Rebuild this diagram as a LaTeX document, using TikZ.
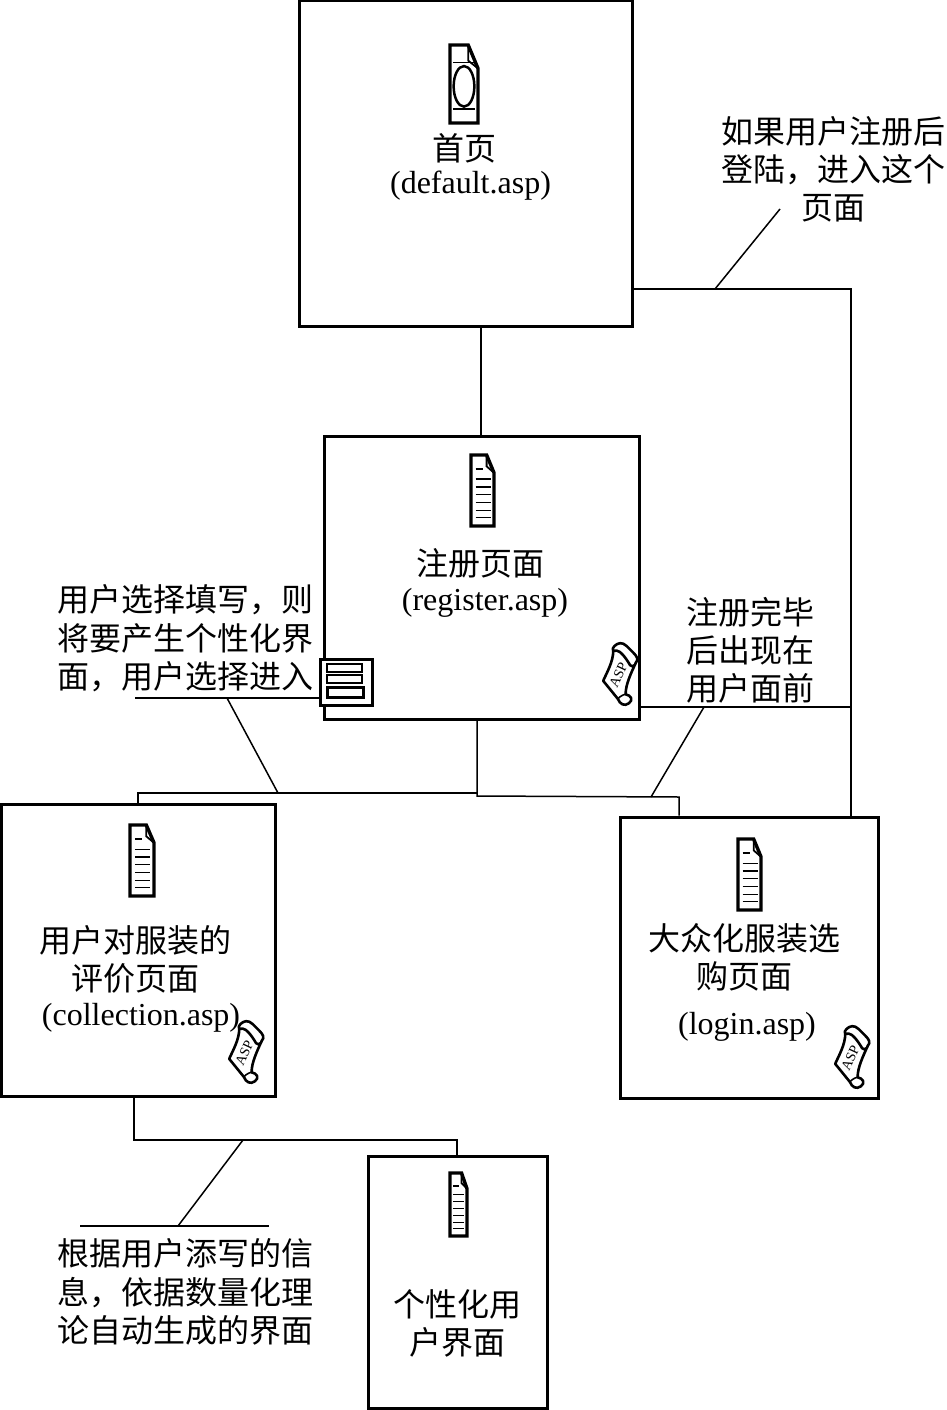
\documentclass[tikz,border=0pt]{standalone}
\usepackage{fontspec}
\setmainfont{Liberation Serif}
\newfontfamily\cjk{Noto Sans CJK SC}
\usetikzlibrary{calc}
\tikzset{
  box/.style={draw,line width=3pt,inner sep=0pt,fill=white},
  conn/.style={line width=1.5pt},
  lab/.style={inner sep=0pt,font=\cjk\fontsize{32}{38}\selectfont,align=center,anchor=center},
  labl/.style={inner sep=0pt,font=\cjk\fontsize{32}{38.5}\selectfont,align=left,anchor=west},
  file/.style={inner sep=0pt,font=\fontsize{32}{38}\selectfont,anchor=center},
  icon/.style={line width=3.4pt,line join=miter,fill=white},
  iconline/.style={line width=1.3pt}
}
% x0 y0 w h
\newcommand{\docicon}[4]{%
  \begin{scope}[shift={(#1,#2)},x=#3pt,y=-#4pt]
    \draw[icon] (0,0) -- (.68,0) -- (1,.25) -- (1,1) -- (0,1) -- cycle;
    \draw[line width=1.8pt] (.68,0) -- (.68,.16) -- (1,.25);
    \draw[line width=1.8pt] (.2,.2) -- (.5,.2);
    \foreach \yy in {.34,.45,.56,.67,.78,.88}
      \draw[iconline] (.2,\yy) -- (.85,\yy);
  \end{scope}}
\newcommand{\scrollicon}[2]{%
  \begin{scope}[shift={(#1,#2)},x=1.12pt,y=-1.12pt]
    \draw[line width=2.6pt,fill=white,line join=round]
      (-6,-20) .. controls (-6,-10) and (-12,0) .. (-15,7)
      -- (-2,23) .. controls (0,28) and (4,30) .. (8,27)
      .. controls (12,24) and (10,20) .. (5,19)
      .. controls (5,10) and (10,0) .. (14,-9)
      .. controls (17,-12) and (15,-15) .. (12,-18)
      -- (6,-24) .. controls (2,-28) and (-2,-27) .. (-5,-24)
      .. controls (-8,-21) and (-6,-19) .. (-3,-20)
      .. controls (0,-20) and (5,-14) .. (9,-7)
      .. controls (11,-5) and (14,-7) .. (14,-9);
    \draw[line width=1.6pt] (-2,23) .. controls (1,20) and (4,19) .. (5,19);
    \node[inner sep=0pt,rotate=65,font=\fontsize{14}{14}\selectfont] at (-1.5,2) {ASP};
  \end{scope}}
\begin{document}
\begin{tikzpicture}[x=1pt,y=-1pt]
\useasboundingbox (0,0) rectangle (946,1410);
% boxes
\node[box,minimum width=333pt,minimum height=325pt] (home) at (466,163.5) {};
\node[box,minimum width=315pt,minimum height=283pt] (reg) at (481.5,577.5) {};
\node[box,minimum width=274pt,minimum height=292pt] (coll) at (138,950) {};
\node[box,minimum width=258pt,minimum height=281pt] (login) at (749,957.5) {};
\node[box,minimum width=179pt,minimum height=252pt] (pers) at (457.5,1282) {};
\node[draw,line width=3pt,inner sep=0pt,fill=white,minimum width=52pt,minimum height=46pt] (form) at (346,682) {};
% junction coordinates
\coordinate (a) at (851,289);
\coordinate (b) at (851,707);
\coordinate (c) at (481,381);
\coordinate (d) at (477,796);
\coordinate (e) at (477,793);
\coordinate (f) at (138,793);
\coordinate (g) at (679,797);
\coordinate (h) at (134,1140);
\coordinate (i) at (457,1140);
\coordinate (j) at (715,289);
\coordinate (k) at (780,209);
\coordinate (l) at (704,707);
\coordinate (m) at (651,797);
\coordinate (n) at (135,698);
\coordinate (o) at (227,698);
\coordinate (p) at (278,793);
\coordinate (q) at (243,1140);
\coordinate (r) at (178,1226);
\coordinate (s) at (80,1226);
\coordinate (t) at (269,1226);
% connectors
\draw[conn] (home.east |- a) -- (a) -- (login.north -| a);
\draw[conn] (reg.east |- b) -- (b);
\draw[conn] (home.south -| c) -- (reg.north -| c);
\draw[conn] (reg.south -| d) -- (d) -- (g) -- (login.north -| g);
\draw[conn] (coll.north -| f) -- (f) -- (e);
\draw[conn] (coll.south -| h) -- (h) -- (i) -- (pers.north -| i);
\draw[conn] (k) -- (j);
\draw[conn] (l) -- (m);
\draw[conn] (n) -- (form.west |- n);
\draw[conn] (o) -- (p);
\draw[conn] (q) -- (r);
\draw[conn] (s) -- (t);
% form icon contents
\draw[line width=1.5pt] (327,664) rectangle (362,672);
\draw[line width=1.5pt] (327,675) rectangle (362,683);
\draw[line width=3pt] (327,687) rectangle (363,697);
% doc icons
\begin{scope}[shift={(450,45)},x=28pt,y=-78pt]
  \draw[icon] (0,0) -- (.65,0) -- (1,.3) -- (1,1) -- (0,1) -- cycle;
  \draw[line width=1.8pt] (.65,0) -- (.65,.2) -- (1,.3);
  \draw[iconline] (.1,.22) -- (.9,.22);
  \draw[iconline] (.1,.82) -- (.9,.82);
  \draw[line width=2.5pt] (.5,.53) ellipse [x radius=.37,y radius=.26];
\end{scope}
\docicon{471}{455}{23}{71}
\docicon{130}{825}{24}{71}
\docicon{738}{839}{23}{71}
\docicon{450}{1173}{17}{63}
\scrollicon{620}{673}
\scrollicon{246}{1051}
\scrollicon{852}{1056}
% texts
\node[lab] (t1) at (464,148) {首页};
\node[file] (t2) at (470.5,186) {(default.asp)};
\node[lab] (t3) at (833,169) {如果用户注册后\\登陆，进入这个\\页面};
\node[lab] (t4) at (480,563) {注册页面};
\node[file] (t5) at (485,603) {(register.asp)};
\node[labl] (t6) at (57,638.5) {用户选择填写，则\\将要产生个性化界\\面，用户选择进入};
\node[lab] (t7) at (750,650) {注册完毕\\后出现在\\用户面前};
\node[lab] (t8) at (135,959) {用户对服装的\\评价页面};
\node[file] (t9) at (141,1018) {(collection.asp)};
\node[lab] (t10) at (744,957) {大众化服装选\\购页面};
\node[file] (t11) at (747,1027) {(login.asp)};
\node[lab] (t12) at (457,1323) {个性化用\\户界面};
\node[labl] (t13) at (57,1292) {根据用户添写的信\\息，依据数量化理\\论自动生成的界面};
\end{tikzpicture}
\end{document}
